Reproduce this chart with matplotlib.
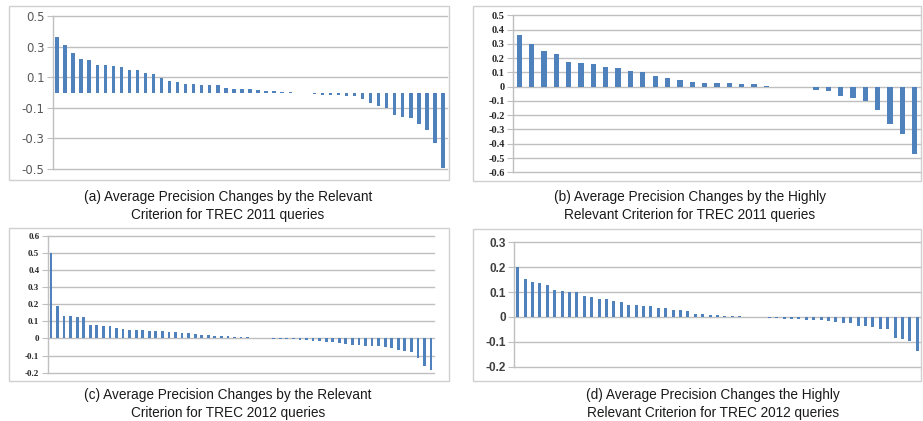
import numpy as np
import matplotlib
matplotlib.use("Agg")
import matplotlib.pyplot as plt
from matplotlib.patches import Rectangle

W, H = 923, 421

# (a) relevant criterion, TREC 2011
vals_a = [0.361, 0.311, 0.257, 0.217, 0.213, 0.178, 0.178, 0.170, 0.165, 0.150,
          0.146, 0.126, 0.122, 0.093, 0.072, 0.070, 0.057, 0.054, 0.052, 0.050,
          0.048, 0.028, 0.025, 0.022, 0.020, 0.017, 0.011, 0.009, 0.004, 0.002,
          0.0, 0.0, -0.013, -0.015, -0.015, -0.017, -0.020, -0.026, -0.041, -0.070,
          -0.087, -0.100, -0.146, -0.161, -0.167, -0.209, -0.246, -0.330, -0.493]
ticks_a = [-0.5, -0.3, -0.1, 0.1, 0.3, 0.5]
labels_a = ["-0.5", "-0.3", "-0.1", "0.1", "0.3", "0.5"]

# (b) highly relevant criterion, TREC 2011
vals_b = [0.362, 0.297, 0.248, 0.231, 0.175, 0.168, 0.157, 0.140, 0.131, 0.112,
          0.100, 0.077, 0.061, 0.044, 0.035, 0.028, 0.028, 0.026, 0.019, 0.019,
          0.005, 0.0, 0.0, -0.002, -0.021, -0.033, -0.063, -0.082, -0.100, -0.164,
          -0.262, -0.334, -0.472]
ticks_b = [-0.6, -0.5, -0.4, -0.3, -0.2, -0.1, 0, 0.1, 0.2, 0.3, 0.4, 0.5]
labels_b = ["-0.6", "-0.5", "-0.4", "-0.3", "-0.2", "-0.1", "0",
            "0.1", "0.2", "0.3", "0.4", "0.5"]

# (c) relevant criterion, TREC 2012
vals_c = [0.498, 0.187, 0.132, 0.130, 0.128, 0.123, 0.078, 0.076, 0.072, 0.070,
          0.062, 0.056, 0.051, 0.049, 0.049, 0.045, 0.043, 0.041, 0.039, 0.035,
          0.031, 0.031, 0.025, 0.023, 0.021, 0.016, 0.016, 0.012, 0.009, 0.008,
          0.006, 0.005, 0.004, 0.0, -0.003, -0.004, -0.005, -0.006, -0.008, -0.010,
          -0.012, -0.016, -0.019, -0.023, -0.027, -0.033, -0.039, -0.041, -0.043, -0.045,
          -0.047, -0.051, -0.056, -0.070, -0.074, -0.082, -0.115, -0.161, -0.185]
ticks_c = [-0.2, -0.1, 0, 0.1, 0.2, 0.3, 0.4, 0.5, 0.6]
labels_c = ["-0.2", "-0.1", "0", "0.1", "0.2", "0.3", "0.4", "0.5", "0.6"]

# (d) highly relevant criterion, TREC 2012
vals_d = [0.201, 0.153, 0.139, 0.135, 0.130, 0.107, 0.103, 0.101, 0.099, 0.083,
          0.080, 0.072, 0.071, 0.063, 0.060, 0.048, 0.048, 0.043, 0.042, 0.036,
          0.034, 0.028, 0.027, 0.023, 0.013, 0.011, 0.009, 0.007, 0.004, 0.003,
          0.002, 0.0, 0.0, 0.0, -0.003, -0.005, -0.008, -0.009, -0.010, -0.011,
          -0.012, -0.013, -0.017, -0.020, -0.023, -0.025, -0.035, -0.035, -0.042, -0.048,
          -0.048, -0.084, -0.090, -0.098, -0.138]
ticks_d = [-0.2, -0.1, 0, 0.1, 0.2, 0.3]
labels_d = ["-0.2", "-0.1", "0", "0.1", "0.2", "0.3"]

captions = [
    "(a) Average Precision Changes by the Relevant\nCriterion for TREC 2011 queries",
    "(b) Average Precision Changes by the Highly\nRelevant Criterion for TREC 2011 queries",
    "(c) Average Precision Changes by the Relevant\nCriterion for TREC 2012 queries",
    "(d) Average Precision Changes the Highly\nRelevant Criterion for TREC 2012 queries",
]

BAR = "#4F81BD"
GRID = "#BFBFBF"
FRAME = "#D0D0D0"


def rect(x0, y0, x1, y1):
    # pixel box (top-left origin) -> figure fraction
    return [x0 / W, 1 - y1 / H, (x1 - x0) / W, (y1 - y0) / H]


def frame(fig, x0, y0, x1, y1):
    fig.add_artist(Rectangle((x0 / W, 1 - y1 / H), (x1 - x0) / W, (y1 - y0) / H,
                             transform=fig.transFigure, fill=False,
                             edgecolor=FRAME, linewidth=1.0))


def panel(fig, box, vals, ticks, labels, font):
    ax = fig.add_axes(rect(*box))
    n = len(vals)
    ax.bar(np.arange(n), vals, width=0.42, color=BAR, zorder=3)
    ax.set_xlim(-0.5, n - 0.5)
    ax.set_ylim(ticks[0], ticks[-1])
    ax.set_yticks(ticks)
    ax.set_yticklabels(labels, **font)
    ax.set_xticks([])
    ax.yaxis.grid(True, color=GRID, linewidth=1.0, zorder=0)
    for gl in ax.get_ygridlines():
        gl.set_clip_on(False)
    for s in ["top", "right", "bottom"]:
        ax.spines[s].set_visible(False)
    ax.spines["left"].set_color(GRID)
    ax.spines["left"].set_linewidth(1.0)
    ax.tick_params(axis="y", length=4, color=GRID, pad=2)
    ax.set_facecolor("none")
    return ax


fig = plt.figure(figsize=(W / 100, H / 100), dpi=100)

frame(fig, 9, 6, 449, 180)
frame(fig, 473, 6, 921, 181)
frame(fig, 9, 228, 449, 381)
frame(fig, 473, 229, 921, 381)

font_a = dict(family="DejaVu Sans", fontsize=8.5, color="#595959")
font_b = dict(family="Liberation Serif", fontsize=7.5, weight="bold", color="#262626")
font_c = dict(family="Liberation Serif", fontsize=6.5, weight="bold", color="#262626")
font_d = dict(family="Liberation Sans", fontsize=8.5, weight="bold", color="#404040")

panel(fig, (53, 16, 447, 169), vals_a, ticks_a, labels_a, font_a)
panel(fig, (513, 15.3, 921, 172.3), vals_b, ticks_b, labels_b, font_b)
panel(fig, (47.7, 235.7, 434.3, 372.7), vals_c, ticks_c, labels_c, font_c)
panel(fig, (514, 242.3, 921, 366.7), vals_d, ticks_d, labels_d, font_d)

cap_pos = [(228, 206), (690, 206), (228, 404), (713, 404)]
for (cx, cy), txt in zip(cap_pos, captions):
    fig.text(cx / W, 1 - cy / H, txt, ha="center", va="center",
             family="Liberation Sans", fontsize=9.8, color="#1a1a1a",
             linespacing=1.3)

fig.savefig("out.png", dpi=100)
